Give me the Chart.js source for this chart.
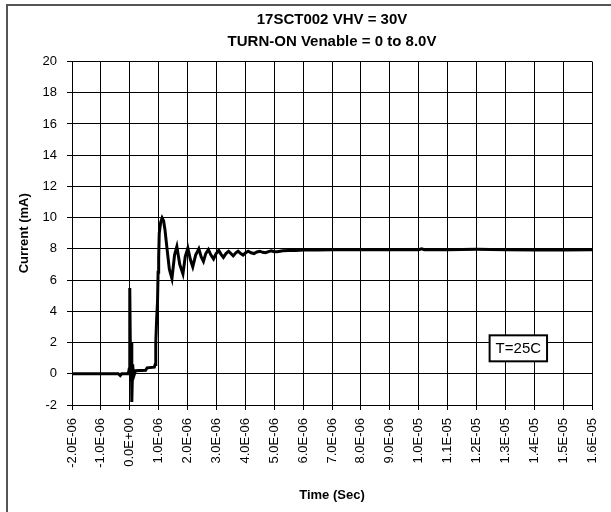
<!DOCTYPE html>
<html>
<head>
<meta charset="utf-8">
<script src="https://cdn.jsdelivr.net/npm/chart.js@4/dist/chart.umd.min.js"></script>
<style>
    html, body { margin: 0; padding: 0; background: #fff; }
    #wrap { width: 611px; height: 512px; }
</style>
</head>
<body>
<div id="wrap"><canvas id="turnOnChart" width="611" height="512"></canvas></div>
<script>
// turn-on current waveform, time in microseconds, current in mA
const timeUs = [
    -2.0, -0.4, -0.33, -0.28, -0.05, -0.02, 0.0, 0.03, 0.05, 0.07, 0.1, 0.13,
    0.2, 0.55, 0.6, 0.85, 0.88, 0.9, 0.93, 0.96, 0.98, 1.0, 1.02, 1.07, 1.12,
    1.17, 1.22, 1.29, 1.37, 1.46, 1.55, 1.63, 1.73, 1.84, 1.92, 2.01, 2.1, 2.18,
    2.28, 2.39, 2.47, 2.55, 2.63, 2.72, 2.81, 2.9, 2.99, 3.08, 3.16, 3.24, 3.33,
    3.42, 3.5, 3.58, 3.67, 3.75, 3.84, 3.92, 4.01, 4.1, 4.2, 4.3, 4.4, 4.5, 4.6,
    4.7, 4.8, 4.9, 5.0, 5.1, 5.3, 5.5, 5.75, 6.0, 6.5, 7.0, 8.0, 9.0, 10.0,
    10.1, 10.2, 11.0, 12.0, 13.0, 14.0, 15.0, 16.0
];
const currentMa = [
    0.0, 0.0, -0.12, 0.0, 0.0, 0.3, 5.5, -0.5, 2.0, -1.8, 0.6, -0.2,
    0.2, 0.22, 0.38, 0.42, 0.6, 2.0, 3.5, 4.6, 6.5, 7.4, 9.0, 9.7, 9.98,
    9.8, 9.2, 8.0, 6.7, 6.1, 7.6, 8.15, 7.0, 6.4, 7.5, 8.05, 7.3, 6.85,
    7.6, 8.0, 7.5, 7.2, 7.7, 7.95, 7.6, 7.35, 7.7, 7.9, 7.65, 7.45, 7.7,
    7.85, 7.7, 7.55, 7.75, 7.85, 7.7, 7.6, 7.75, 7.85, 7.75, 7.7, 7.8, 7.85, 7.78,
    7.75, 7.82, 7.88, 7.82, 7.82, 7.88, 7.9, 7.9, 7.92, 7.93, 7.95, 7.95, 7.95, 7.95,
    8.0, 7.95, 7.95, 7.97, 7.95, 7.93, 7.93, 7.95
];

const xTickLabels = [
    "-2.0E-06", "-1.0E-06", "0.0E+00", "1.0E-06", "2.0E-06", "3.0E-06",
    "4.0E-06", "5.0E-06", "6.0E-06", "7.0E-06", "8.0E-06", "9.0E-06",
    "1.0E-05", "1.1E-05", "1.2E-05", "1.3E-05", "1.4E-05", "1.5E-05", "1.6E-05"
];

const chartTitle = ["17SCT002 VHV = 30V", "TURN-ON Venable = 0 to 8.0V"];
const noteText = "T=25C";
const noteAt = { x: 13.45, y: 1.63 };

const FONT = "'Liberation Sans', Arial, sans-serif";

// grey frame round the whole chart, plus white background
const framePlugin = {
    id: "frame",
    beforeDraw(chart) {
        const ctx = chart.ctx;
        ctx.save();
        ctx.fillStyle = "#fff";
        ctx.fillRect(0, 0, chart.width, chart.height);
        ctx.strokeStyle = "#555";
        ctx.lineWidth = 2;
        ctx.strokeRect(7, 5, 700, 700);
        ctx.restore();
    },
};

// boxed temperature note placed in data units
const notePlugin = {
    id: "note",
    afterDatasetsDraw(chart) {
        const ctx = chart.ctx;
        const cx = chart.scales.x.getPixelForValue(noteAt.x);
        const cy = chart.scales.y.getPixelForValue(noteAt.y);
        ctx.save();
        ctx.font = "15px " + FONT;
        const w = ctx.measureText(noteText).width + 12;
        const h = 26;
        ctx.fillStyle = "#fff";
        ctx.fillRect(cx - w / 2, cy - h / 2, w, h);
        ctx.strokeStyle = "#000";
        ctx.lineWidth = 2;
        ctx.strokeRect(cx - w / 2, cy - h / 2, w, h);
        ctx.fillStyle = "#000";
        ctx.textAlign = "center";
        ctx.textBaseline = "middle";
        ctx.fillText(noteText, cx, cy + 1);
        ctx.restore();
    },
};

new Chart(document.getElementById("turnOnChart"), {
    type: "line",
    data: {
        datasets: [
            {
                label: "Current",
                data: timeUs.map((t, i) => ({ x: t, y: currentMa[i] })),
                borderColor: "#000",
                backgroundColor: "#000",
                borderWidth: 3,
                pointRadius: 0,
                tension: 0,
                fill: false,
            },
        ],
    },
    options: {
        responsive: false,
        animation: false,
        layout: {
            padding: { left: 8, right: 19, top: 9, bottom: 0 },
        },
        scales: {
            x: {
                type: "linear",
                min: -2,
                max: 16,
                afterFit: (scale) => {
                    scale.height = 107;
                    scale.paddingLeft = 0;
                    scale.paddingRight = 0;
                },
                ticks: {
                    stepSize: 1,
                    autoSkip: false,
                    maxRotation: 90,
                    minRotation: 90,
                    padding: 8,
                    color: "#000",
                    font: { family: FONT, size: 13 },
                    callback: (value, index) => xTickLabels[index],
                },
                grid: {
                    color: "#000",
                    lineWidth: 1,
                    tickLength: 5,
                },
                border: { color: "#000", width: 1 },
                title: {
                    display: true,
                    text: "Time (Sec)",
                    color: "#000",
                    font: { family: FONT, size: 13, weight: "bold" },
                    padding: { top: 0, bottom: 9 },
                },
            },
            y: {
                min: -2,
                max: 20,
                afterFit: (scale) => { scale.width = 64; },
                ticks: {
                    stepSize: 2,
                    padding: 10,
                    color: "#000",
                    font: { family: FONT, size: 13 },
                },
                grid: {
                    color: "#000",
                    lineWidth: 1,
                    tickLength: 5,
                },
                border: { color: "#000", width: 1 },
                title: {
                    display: true,
                    text: "Current (mA)",
                    color: "#000",
                    font: { family: FONT, size: 13, weight: "bold" },
                    padding: { top: 9, bottom: 0 },
                },
            },
        },
        plugins: {
            legend: { display: false },
            tooltip: { enabled: false },
            title: {
                display: true,
                fullSize: false,
                text: chartTitle,
                color: "#000",
                font: { family: FONT, size: 15, weight: "bold", lineHeight: 1.45 },
                padding: { top: 0, bottom: 9 },
            },
        },
    },
    plugins: [framePlugin, notePlugin],
});
</script>
</body>
</html>
